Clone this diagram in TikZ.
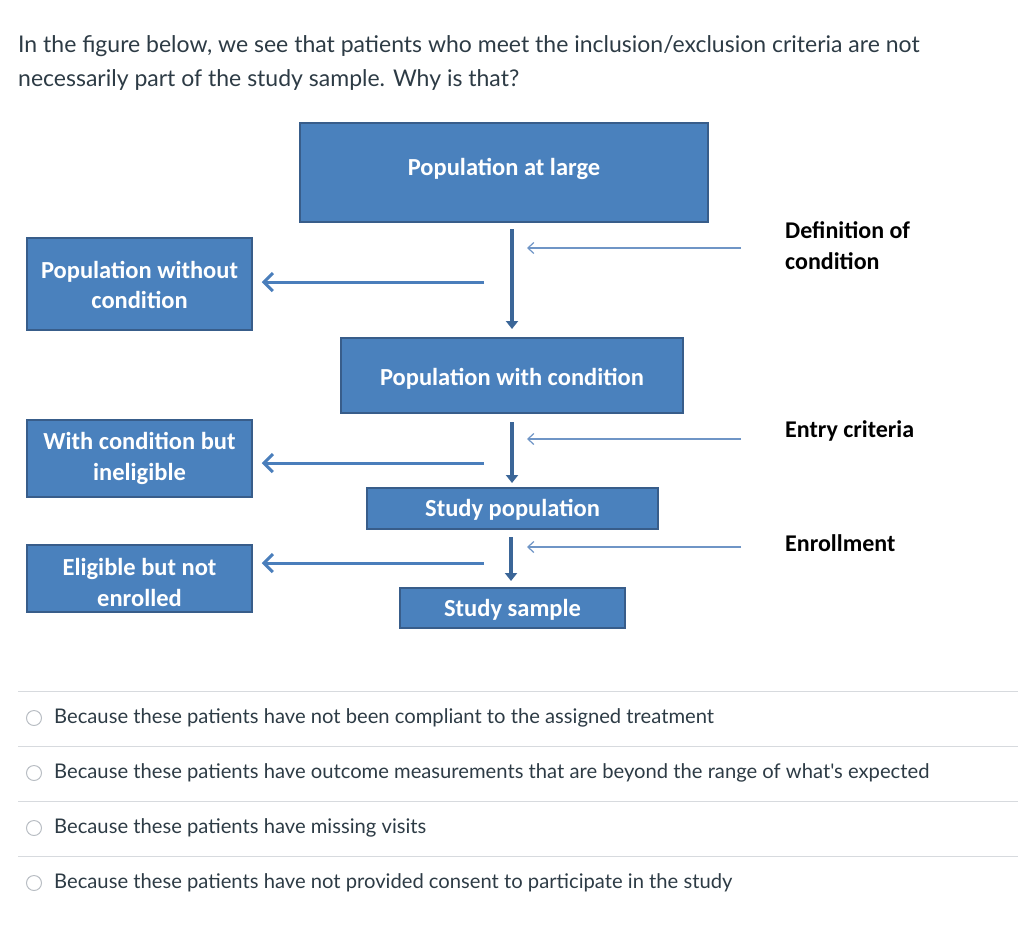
\documentclass[tikz,border=0pt]{standalone}
\usepackage{fontspec}
\setmainfont{Lato}
\newfontfamily\latoraw{Lato}[Ligatures=TeXOff]
\newfontfamily\carl{Carlito}
\usetikzlibrary{arrows.meta}
\definecolor{boxfill}{HTML}{4A81BD}
\definecolor{boxline}{HTML}{385D8A}
\definecolor{downarr}{HTML}{3B6698}
\definecolor{leftarr}{HTML}{4A7EBB}
\definecolor{thinarr}{HTML}{6F95C6}
\definecolor{txt}{HTML}{2D3B45}
\definecolor{sep}{HTML}{D7DADE}
\definecolor{radio}{HTML}{B9BEC4}
\tikzset{
  bxtext/.style={text=white, font=\carl\bfseries\fontsize{24.5}{30.5}\selectfont, align=center, inner sep=0pt},
  bx/.style={draw=boxline, line width=1.5pt, fill=boxfill, inner sep=0pt},
  lbl/.style={anchor=west, align=left, font=\carl\bfseries\fontsize{24}{31}\selectfont, text=black, inner sep=0pt},
  downa/.style={draw=downarr, line width=4pt, -{Triangle[length=8pt,width=12pt]}},
  lefta/.style={draw=leftarr, line width=3pt, -{Straight Barb[length=9pt,width=18pt,line width=3pt]}},
  thina/.style={draw=thinarr, line width=1.2pt, -{Straight Barb[length=6pt,width=11pt,line width=1.2pt]}},
  q/.style={anchor=west, text=txt, font=\fontsize{23}{34}\selectfont, inner sep=0pt},
  opt/.style={anchor=west, text=txt, font=\fontsize{20.2}{24}\selectfont, inner sep=0pt},
  rad/.style={circle, draw=radio, line width=1pt, minimum size=15pt, inner sep=0pt, fill=white},
  sepl/.style={draw=sep, line width=1pt}
}
\begin{document}
\begin{tikzpicture}[x=1pt,y=-1pt]
\useasboundingbox (0,0) rectangle (1024,929);
% question
\node[q] (q1) at (18,46) {In the figure below, we see that patients who meet the inclusion/exclusion criteria are not};
\node[q] (q2) at (18,80) {necessarily part of the study sample. Why is that?};
% boxes
\node[bx, minimum width=408pt, minimum height=99pt, label={[bxtext, yshift=3.5pt]center:Population at large}] (pal) at (504,172.5) {};
\node[bx, minimum width=225pt, minimum height=92pt, label={[bxtext, yshift=-1pt]center:Population without\\condition}] (pwo) at (139.5,284) {};
\node[bx, minimum width=342pt, minimum height=75pt, label={[bxtext, yshift=-3.5pt]center:Population with condition}] (pwc) at (512,375.5) {};
\node[bx, minimum width=225pt, minimum height=77pt, label={[bxtext, yshift=0pt]center:With condition but\\ineligible}] (wci) at (139.5,458.5) {};
\node[bx, minimum width=291pt, minimum height=41pt, label={[bxtext, yshift=-1.5pt]center:Study population}] (sp) at (512.5,508.5) {};
\node[bx, minimum width=225pt, minimum height=67pt, label={[bxtext, yshift=-4pt]center:Eligible but not\\enrolled}] (ebn) at (139.5,578.5) {};
\node[bx, minimum width=225pt, minimum height=40pt, label={[bxtext, yshift=-2pt]center:Study sample}] (ss) at (512.5,608) {};
% labels
\node[lbl] (l1) at (785,246) {Definition of\\condition};
\node[lbl] (l2) at (785,431) {Entry criteria};
\node[lbl] (l3) at (785,543) {Enrollment};
% coordinates
\coordinate (d1s) at (512,229); \coordinate (d1e) at (512,329);
\coordinate (d2s) at (512,422); \coordinate (d2e) at (512,483);
\coordinate (d3s) at (511,537); \coordinate (d3e) at (511,581);
\coordinate (a1s) at (484,282); \coordinate (a2s) at (484,463); \coordinate (a3s) at (484,563);
\coordinate (t1s) at (741,248); \coordinate (t1e) at (527,248);
\coordinate (t2s) at (741,439); \coordinate (t2e) at (527,439);
\coordinate (t3s) at (741,547); \coordinate (t3e) at (527,547);
% arrows
\draw[downa] (d1s) -- (d1e);
\draw[downa] (d2s) -- (d2e);
\draw[downa] (d3s) -- (d3e);
\draw[lefta] (a1s) -- ([xshift=9pt]pwo.east |- a1s);
\draw[lefta] (a2s) -- ([xshift=9pt]wci.east |- a2s);
\draw[lefta] (a3s) -- ([xshift=9pt]ebn.east |- a3s);
\draw[thina] (t1s) -- (t1e);
\draw[thina] (t2s) -- (t2e);
\draw[thina] (t3s) -- (t3e);
% separators
\coordinate (s1l) at (18,691); \coordinate (s1r) at (1018,691);
\coordinate (s2l) at (18,746); \coordinate (s2r) at (1018,746);
\coordinate (s3l) at (18,801); \coordinate (s3r) at (1018,801);
\coordinate (s4l) at (18,856); \coordinate (s4r) at (1018,856);
\draw[sepl] (s1l) -- (s1r);
\draw[sepl] (s2l) -- (s2r);
\draw[sepl] (s3l) -- (s3r);
\draw[sepl] (s4l) -- (s4r);
% options
\node[rad] (r1) at (34,718) {};
\node[rad] (r2) at (34,773) {};
\node[rad] (r3) at (34,828) {};
\node[rad] (r4) at (34,883) {};
\node[opt] (o1) at (54,718) {Because these patients have not been compliant to the assigned treatment};
\node[opt] (o2) at (54,773) {Because these patients have outcome measurements that are beyond the range of {\latoraw what's} expected};
\node[opt] (o3) at (54,828) {Because these patients have missing visits};
\node[opt] (o4) at (54,883) {Because these patients have not provided consent to participate in the study};
\end{tikzpicture}
\end{document}
